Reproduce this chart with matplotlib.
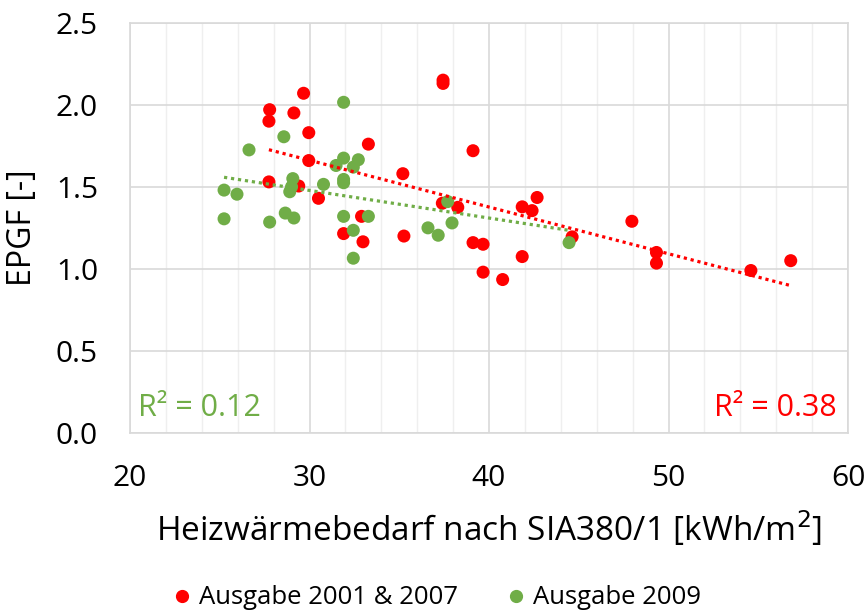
import numpy as np
import matplotlib
matplotlib.use("Agg")
import matplotlib.pyplot as plt
from matplotlib.ticker import MultipleLocator, FormatStrFormatter
from matplotlib.lines import Line2D

plt.rcParams['font.family'] = ['Open Sans', 'DejaVu Sans']

# Ausgabe 2001 & 2007
red_x = [29.67, 27.78, 29.13, 27.74, 29.96, 33.28, 29.96, 35.2, 27.74, 29.4,
         30.5, 32.9, 31.9, 32.98, 35.26, 37.44, 37.44, 39.11, 42.68, 41.85,
         42.4, 37.4, 38.26, 44.63, 39.11, 39.67, 41.85, 39.67, 40.76, 47.96,
         49.33, 49.33, 54.59, 56.81]
red_y = [2.07, 1.97, 1.95, 1.90, 1.83, 1.76, 1.66, 1.58, 1.53, 1.505,
         1.43, 1.32, 1.215, 1.165, 1.20, 2.15, 2.13, 1.72, 1.435, 1.378,
         1.355, 1.40, 1.375, 1.195, 1.16, 1.15, 1.075, 0.98, 0.935, 1.29,
         1.10, 1.035, 0.99, 1.05]

# Ausgabe 2009
green_x = [31.9, 28.57, 26.63, 31.9, 32.72, 31.48, 32.44, 31.9, 31.9, 29.07,
           30.78, 29.0, 28.9, 25.24, 25.96, 25.24, 27.78, 28.65, 29.13, 31.9,
           33.28, 32.44, 32.44, 37.7, 36.6, 37.17, 37.94, 44.46]
green_y = [2.015, 1.805, 1.725, 1.675, 1.665, 1.63, 1.62, 1.545, 1.525, 1.55,
           1.515, 1.50, 1.47, 1.48, 1.455, 1.305, 1.285, 1.34, 1.31, 1.32,
           1.32, 1.235, 1.065, 1.41, 1.25, 1.205, 1.28, 1.16]

series_names = ["Ausgabe 2001 & 2007", "Ausgabe 2009"]
r2_labels = ["R² = 0.38", "R² = 0.12"]

RED = "#FF0000"
GREEN = "#70AD47"

fig = plt.figure(figsize=(8.67, 6.13), dpi=100)
ax = fig.add_axes([130/867, 1-433/613, 718/867, (433-22.7)/613])

ax.set_xlim(20, 60)
ax.set_ylim(0, 2.5)
ax.xaxis.set_major_locator(MultipleLocator(10))
ax.xaxis.set_minor_locator(MultipleLocator(2))
ax.yaxis.set_major_locator(MultipleLocator(0.5))
ax.grid(which='major', axis='both', color='#D9D9D9', lw=1.2, zorder=0)
ax.grid(which='minor', axis='x', color='#EFEFEF', lw=1.0, zorder=0)
ax.set_axisbelow(True)
for s in ax.spines.values():
    s.set_color('#D9D9D9')
    s.set_linewidth(1.2)
ax.tick_params(which='both', length=0)
ax.tick_params(axis='x', pad=22, labelsize=21.5)
ax.tick_params(axis='y', pad=23, labelsize=21.5)
ax.yaxis.set_major_formatter(FormatStrFormatter('%.1f'))

ax.scatter(red_x, red_y, s=88, color=RED, edgecolors='none', zorder=3)
ax.scatter(green_x, green_y, s=88, color=GREEN, edgecolors='none', zorder=4)

# linear trendlines
for xs, ys, c in [(red_x, red_y, RED), (green_x, green_y, GREEN)]:
    xs = np.array(xs); ys = np.array(ys)
    k, d = np.polyfit(xs, ys, 1)
    xx = np.array([xs.min(), xs.max()])
    ax.plot(xx, k*xx + d, color=c, lw=2.3, linestyle=(0, (1, 1.2)), zorder=5)

ax.text(20.45, 0.155, r2_labels[1], color=GREEN, fontsize=22, ha='left', va='center')
ax.text(59.35, 0.155, r2_labels[0], color=RED, fontsize=22, ha='right', va='center')

ax.set_xlabel("Heizwärmebedarf nach SIA380/1 [kWh/m$^2$]", fontsize=24, labelpad=12)
ax.set_ylabel("EPGF [-]", fontsize=23, labelpad=12)

handles = [Line2D([], [], marker='o', ls='none', color=RED, markersize=8.5),
           Line2D([], [], marker='o', ls='none', color=GREEN, markersize=8.5)]
fig.legend(handles, series_names, loc='center', bbox_to_anchor=(435/867, 1-598/613),
           ncol=2, frameon=False, fontsize=18.5, handletextpad=0.15, columnspacing=1.75,
           handlelength=1.0)

fig.savefig("out.png", dpi=100)
